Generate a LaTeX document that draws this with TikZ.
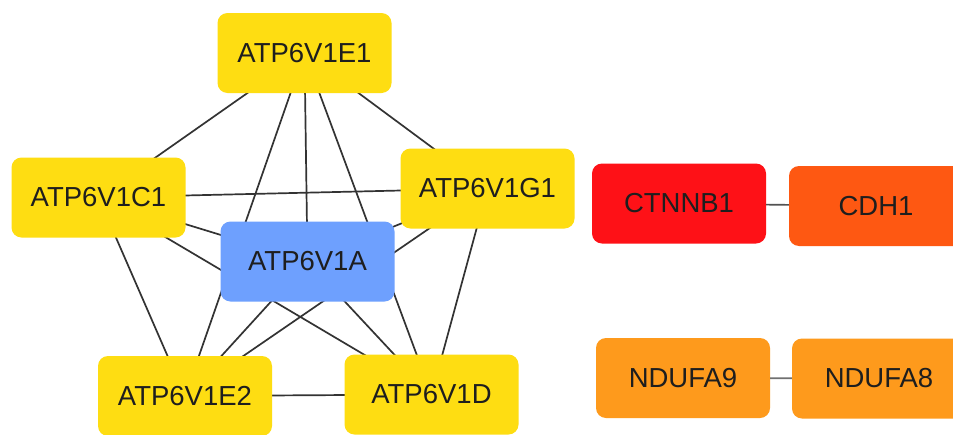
\documentclass[tikz,border=0pt]{standalone}
\usepackage{fontspec}
\setmainfont{Liberation Sans}
\definecolor{ylw}{HTML}{FEDD12}
\definecolor{blu}{HTML}{6EA0FE}
\definecolor{rd}{HTML}{FE1117}
\definecolor{orr}{HTML}{FE5812}
\definecolor{org}{HTML}{FE9A1C}
\definecolor{edg}{HTML}{333333}
\definecolor{txt}{HTML}{1E1E1E}
\tikzset{
  gene/.style={rectangle, rounded corners=10pt, minimum width=174pt, minimum height=80pt,
    inner sep=0pt, text=txt, font=\fontsize{27.5}{30}\selectfont},
  link/.style={draw=edg, line width=1.7pt}
}
\begin{document}
\begin{tikzpicture}[x=1pt,y=-1pt]
\useasboundingbox (0,0) rectangle (953,434);
\clip (0,0) rectangle (953,434);
\fill[white] (0,0) rectangle (953,434);
% node centres
\coordinate (pE1) at (304.5,53);
\coordinate (pC1) at (98.5,197.5);
\coordinate (pG1) at (487.5,188.5);
\coordinate (pA) at (307.5,261.5);
\coordinate (pE2) at (185,396);
\coordinate (pD) at (431.5,394.5);
% edges (drawn first, under nodes)
\draw[link] (pE1) -- (pC1);
\draw[link] (pE1) -- (pG1);
\draw[link] (pE1) -- (pA);
\draw[link] (pE1) -- (pE2);
\draw[link] (pE1) -- (pD);
\draw[link] (pC1) -- (pG1);
\draw[link] (pC1) -- (pA);
\draw[link] (pC1) -- (pE2);
\draw[link] (pC1) -- (pD);
\draw[link] (pG1) -- (pA);
\draw[link] (pG1) -- (pE2);
\draw[link] (pG1) -- (pD);
\draw[link] (pA) -- (pE2);
\draw[link] (pA) -- (pD);
\draw[link] (pE2) -- (pD);
% nodes
\node[gene, fill=ylw] (E1) at (pE1) {ATP6V1E1};
\node[gene, fill=ylw] (C1) at (pC1) {ATP6V1C1};
\node[gene, fill=ylw] (G1) at (pG1) {ATP6V1G1};
\node[gene, fill=blu] (A) at (pA) {ATP6V1A};
\node[gene, fill=ylw] (E2) at (pE2) {ATP6V1E2};
\node[gene, fill=ylw] (D) at (pD) {ATP6V1D};
\node[gene, fill=rd] (CT) at (679,203.5) {CTNNB1};
\node[gene, fill=orr] (CD) at (876,206) {CDH1};
\node[gene, fill=org] (N9) at (683,378) {NDUFA9};
\node[gene, fill=org] (N8) at (879,378.5) {NDUFA8};
\draw[link, draw=edg!85] (CT) -- (CD);
\draw[link, draw=edg!70] (N9) -- (N8);
\end{tikzpicture}
\end{document}
